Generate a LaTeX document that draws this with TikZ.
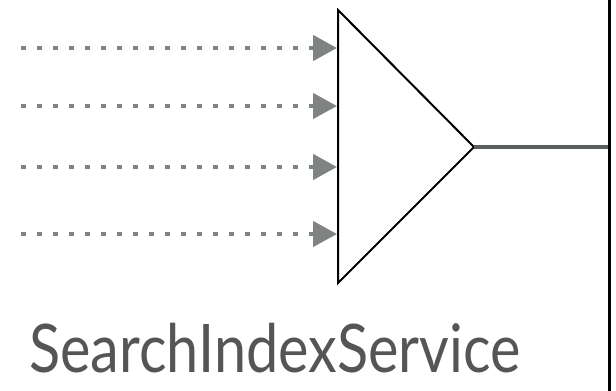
\documentclass[tikz,border=0pt]{standalone}
\usepackage{fontspec}
\setmainfont{Lato}
\usetikzlibrary{arrows.meta}
\definecolor{feedgray}{HTML}{7F8482}
\definecolor{outgray}{HTML}{5A5E5C}
\definecolor{captiongray}{HTML}{555555}
\tikzset{
  feedline/.style={feedgray, line width=4.5pt, line cap=butt, dash pattern=on 4.5pt off 11.5pt,
    -{Triangle[length=24pt,width=25pt]}},
  merger/.style={draw=black, line width=2pt, line join=miter},
  outline/.style={outgray, line width=4pt},
  rail/.style={black, line width=3pt},
}
\begin{document}
\begin{tikzpicture}[x=1pt,y=-1pt]
  \useasboundingbox (0,0) rectangle (616,391);
  % the merging triangle
  \coordinate (topleft) at (338,10);
  \coordinate (botleft) at (338,283);
  \coordinate (tip) at (474,147);
  \draw[merger] (topleft) -- (tip) -- (botleft) -- cycle;
  % incoming feeds
  \foreach \i/\y in {1/48,2/106,3/167,4/234} {
    \coordinate (src\i) at (21,\y);
    \coordinate (dst\i) at (337,\y);
    \draw[feedline] (src\i) -- (dst\i);
  }
  % outgoing line and rail
  \coordinate (railtop) at (609,0);
  \coordinate (railbot) at (609,391);
  \coordinate (join) at (609,147);
  \draw[outline] (tip) -- (join);
  \draw[rail] (railtop) -- (railbot);
  % caption
  \node[captiongray, anchor=base west, inner sep=0pt, xscale=0.86,
        font=\fontsize{67}{67}\selectfont] (label) at (29,372) {SearchIndexService};
\end{tikzpicture}
\end{document}
